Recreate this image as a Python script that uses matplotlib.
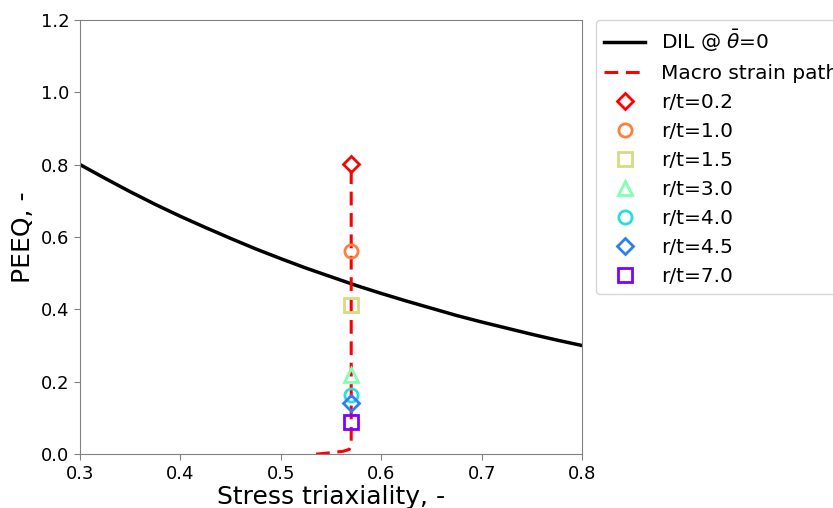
import numpy as np
import matplotlib
matplotlib.use("Agg")
import matplotlib.pyplot as plt
from matplotlib import cm

# DIL curve
dil_triax = [0.300, 0.325, 0.350, 0.375, 0.400, 0.425, 0.450, 0.475, 0.500, 0.525,
             0.550, 0.575, 0.600, 0.625, 0.650, 0.675, 0.700, 0.725, 0.750, 0.775, 0.800]
dil_peeq = [0.800, 0.762, 0.725, 0.690, 0.657, 0.626, 0.596, 0.567, 0.540, 0.514,
            0.490, 0.466, 0.444, 0.423, 0.403, 0.383, 0.365, 0.348, 0.331, 0.315, 0.300]

# Macro strain path
path_triax = [0.535, 0.550, 0.562, 0.568, 0.570, 0.570, 0.570]
path_peeq = [0.000, 0.004, 0.008, 0.013, 0.025, 0.40, 0.80]

# Failure points
rt_labels = ["r/t=0.2", "r/t=1.0", "r/t=1.5", "r/t=3.0", "r/t=4.0", "r/t=4.5", "r/t=7.0"]
pt_triax = [0.570, 0.570, 0.570, 0.570, 0.570, 0.570, 0.570]
pt_peeq = [0.801, 0.561, 0.411, 0.218, 0.163, 0.140, 0.090]
markers = ["D", "o", "s", "^", "o", "D", "s"]

fig = plt.figure(figsize=(8.33, 5.08), dpi=100)
ax = fig.add_axes([0.096, 0.106, 0.603, 0.855])

ax.plot(dil_triax, dil_peeq, color="black", lw=2.5, label=r"DIL @ $\bar{\theta}$=0")
ax.plot(path_triax, path_peeq, color="red", lw=2.2, ls="--", dashes=(4.5, 2.5), label="Macro strain path")

colors = cm.rainbow(np.linspace(1, 0, len(rt_labels)))
for x, y, m, c, lab in zip(pt_triax, pt_peeq, markers, colors, rt_labels):
    ms = 8.5 if m == "D" else 9.5
    ax.plot(x, y, ls="none", marker=m, markersize=ms, markerfacecolor="none",
            markeredgecolor=c, markeredgewidth=2, label=lab)

ax.set_xlim(0.3, 0.8)
ax.set_ylim(0.0, 1.2)
ax.set_xticks([0.3, 0.4, 0.5, 0.6, 0.7, 0.8])
ax.set_yticks([0.0, 0.2, 0.4, 0.6, 0.8, 1.0, 1.2])
ax.tick_params(labelsize=13, colors="#808080", labelcolor="black", length=4)
for s in ax.spines.values():
    s.set_color("#808080")
ax.set_xlabel("Stress triaxiality, -", fontsize=18, labelpad=2)
ax.set_ylabel("PEEQ, -", fontsize=18)

ax.legend(loc="upper left", bbox_to_anchor=(1.028, 1.0), borderaxespad=0,
          fontsize=14.5, frameon=True)

fig.savefig("out.png", dpi=100)
